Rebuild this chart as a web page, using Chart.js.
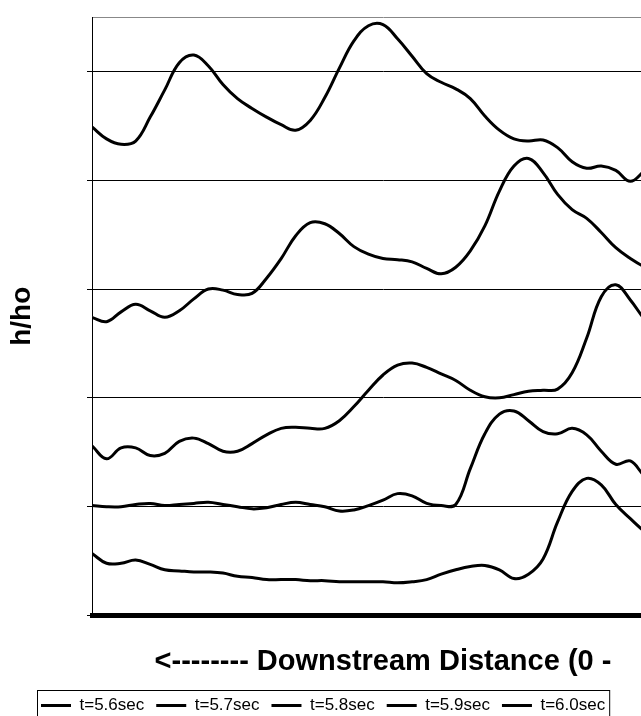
<!DOCTYPE html>
<html>
<head>
<meta charset="utf-8">
<title>h/ho profiles</title>
<script src="https://cdn.jsdelivr.net/npm/chart.js@4.4.1/dist/chart.umd.min.js"></script>
<style>
  html, body { margin: 0; padding: 0; background: #fff; overflow: hidden; }
  canvas { display: block; }
</style>
</head>
<body>
<canvas id="profiles" width="700" height="724"></canvas>
<script>
// distance along the channel (0 - 100 across the plot)
const distance = [0, 2.5, 5, 7.5, 10, 12.5, 15, 17.5, 20, 22.5, 25, 27.5, 30, 32.5, 35, 37.5, 40,
  42.5, 45, 47.5, 50, 52.5, 55, 57.5, 60, 62.5, 65, 67.5, 70, 72.5, 75, 77.5, 80, 82.5, 85,
  87.5, 90, 92.5, 95, 97.5, 100];

const seriesNames = ['t=5.6sec', 't=5.7sec', 't=5.8sec', 't=5.9sec', 't=6.0sec'];

// h/ho for each time step (profiles are stacked one above the other)
const h56 = [0.57, 0.48, 0.48, 0.51, 0.47, 0.42, 0.41, 0.40, 0.40, 0.39, 0.36, 0.35, 0.33, 0.33,
  0.33, 0.32, 0.32, 0.31, 0.31, 0.31, 0.31, 0.30, 0.31, 0.33, 0.38, 0.42, 0.45, 0.46, 0.42,
  0.34, 0.38, 0.52, 0.86, 1.14, 1.26, 1.20, 1.02, 0.89, 0.77, 0.69, 0.64];
const h57 = [1.01, 1.00, 1.00, 1.02, 1.03, 1.01, 1.02, 1.03, 1.04, 1.02, 1.00, 0.98, 0.99, 1.02,
  1.04, 1.02, 1.00, 0.96, 0.97, 1.01, 1.06, 1.12, 1.10, 1.03, 1.01, 1.02, 1.35, 1.67, 1.85,
  1.88, 1.79, 1.69, 1.67, 1.72, 1.66, 1.51, 1.39, 1.42, 1.28, 1.21, 1.15];
const h58 = [1.56, 1.44, 1.54, 1.54, 1.47, 1.49, 1.60, 1.63, 1.58, 1.51, 1.51, 1.58, 1.66, 1.72,
  1.73, 1.72, 1.72, 1.79, 1.92, 2.07, 2.21, 2.30, 2.32, 2.28, 2.22, 2.16, 2.07, 2.01, 2.00,
  2.03, 2.06, 2.07, 2.08, 2.23, 2.55, 2.93, 3.04, 2.90, 2.72, 2.61, 2.52];
const h59 = [2.74, 2.70, 2.79, 2.86, 2.80, 2.74, 2.80, 2.91, 3.00, 2.99, 2.95, 2.96, 3.10, 3.28,
  3.49, 3.61, 3.60, 3.51, 3.39, 3.32, 3.28, 3.27, 3.25, 3.19, 3.14, 3.20, 3.35, 3.58, 3.90,
  4.13, 4.20, 4.07, 3.87, 3.73, 3.65, 3.52, 3.38, 3.28, 3.20, 3.14, 3.07];
const h60 = [4.49, 4.38, 4.33, 4.36, 4.58, 4.83, 5.08, 5.15, 5.05, 4.88, 4.75, 4.66, 4.58, 4.51,
  4.46, 4.55, 4.76, 5.03, 5.28, 5.42, 5.43, 5.30, 5.14, 4.98, 4.90, 4.84, 4.75, 4.59, 4.46,
  4.38, 4.36, 4.37, 4.30, 4.17, 4.11, 4.13, 4.09, 3.99, 4.09, 4.18, 4.23];

const profiles = [h56, h57, h58, h59, h60];

Chart.defaults.font.family = '"Liberation Sans", Arial, sans-serif';
Chart.defaults.color = '#000';

// box around the legend row, and move the row under the y title
const legendFrame = {
  id: 'legendFrame',
  afterLayout(chart) {
    chart.legend.left = 29;
  },
  afterDraw(chart) {
    const boxes = chart.legend.legendHitBoxes;
    if (!boxes || !boxes.length) return;
    const first = boxes[0];
    const last = boxes[boxes.length - 1];
    const ctx = chart.ctx;
    ctx.save();
    ctx.strokeStyle = '#000';
    ctx.lineWidth = 1;
    ctx.strokeRect(first.left - 3.5, first.top - 6.5,
      last.left + last.width - first.left + 8, first.height + 40);
    ctx.restore();
  }
};

const ctx = document.getElementById('profiles');
window.profileChart = new Chart(ctx, {
  type: 'line',
  data: {
    labels: distance,
    datasets: profiles.map((values, i) => ({
      label: seriesNames[i],
      data: values,
      borderColor: '#000',
      backgroundColor: '#000',
      borderWidth: 3,
      pointRadius: 0,
      tension: 0.4,
      fill: false,
    })),
  },
  options: {
    responsive: false,
    animation: false,
    devicePixelRatio: 1,
    layout: {
      padding: { top: 17, right: 26, bottom: 0, left: 0 },
    },
    plugins: {
      tooltip: { enabled: false },
      legend: {
        position: 'bottom',
        align: 'start',
        labels: {
          usePointStyle: true,
          pointStyle: 'line',
          pointStyleWidth: 30,
          padding: 12,
          color: '#000',
          font: { size: 17 },
        },
      },
    },
    scales: {
      x: {
        type: 'linear',
        min: 0,
        max: 100,
        ticks: { display: false },
        grid: { display: false, drawTicks: false },
        border: { color: '#000', width: 5, dash: [6, 1] },
        title: {
          display: true,
          text: '<-------- Downstream Distance (0 -',
          font: { size: 29, weight: 'bold' },
          padding: { top: 29, bottom: 5.7 },
        },
      },
      y: {
        min: 0,
        max: 5.5,
        ticks: { display: false, stepSize: 1 },
        grid: {
          color: (c) => (c.tick && c.tick.value > 5 ? '#888' : '#000'),
          tickColor: (c) => (c.tick && c.tick.value > 5 ? 'rgba(0,0,0,0)' : '#000'),
          tickLength: 5,
          lineWidth: 1,
        },
        border: { color: '#000', width: 1 },
        title: {
          display: true,
          text: 'h/ho',
          font: { size: 28, weight: 'bold' },
          padding: { top: 5.7, bottom: 47.7 },
        },
      },
    },
  },
  plugins: [legendFrame],
});
</script>
</body>
</html>
